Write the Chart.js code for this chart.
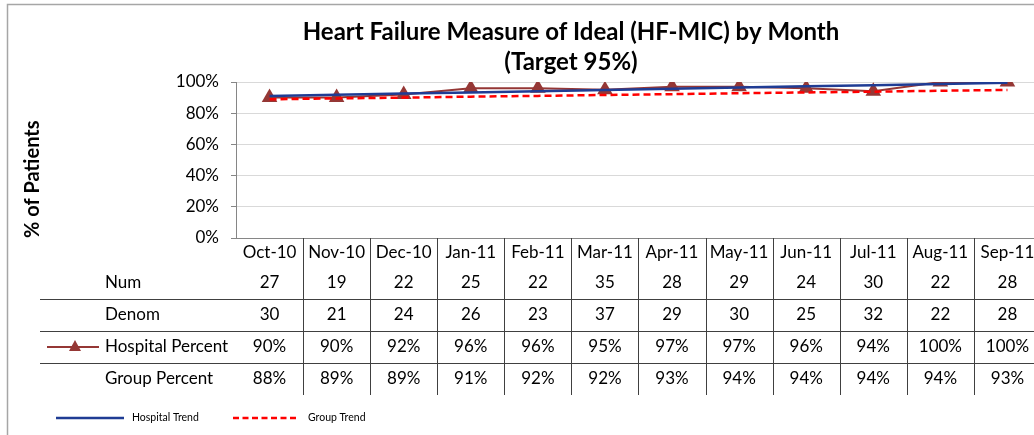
<!DOCTYPE html>
<html>
<head>
<meta charset="utf-8">
<script src="https://cdn.jsdelivr.net/npm/chart.js@4"></script>
<style>
  html, body { margin: 0; padding: 0; background: #fff; overflow: hidden; }
  #wrap { width: 1050px; height: 435px; }
</style>
</head>
<body>
<div id="wrap"><canvas id="chart" width="1050" height="435"></canvas></div>
<script>
// chart data
const months = ['Oct-10', 'Nov-10', 'Dec-10', 'Jan-11', 'Feb-11', 'Mar-11', 'Apr-11', 'May-11', 'Jun-11', 'Jul-11', 'Aug-11', 'Sep-11'];
const numVals = [27, 19, 22, 25, 22, 35, 28, 29, 24, 30, 22, 28];
const denomVals = [30, 21, 24, 26, 23, 37, 29, 30, 25, 32, 22, 28];
const hospitalPct = [90, 90, 92, 96, 96, 95, 97, 97, 96, 94, 100, 100];
const groupPct = [88, 89, 89, 91, 92, 92, 93, 94, 94, 94, 94, 93];
// trend lines
const hospitalTrend = [91.0, 91.8, 92.6, 93.3, 94.1, 94.9, 95.6, 96.4, 97.2, 97.9, 98.7, 99.5];
const groupTrend = [88.9, 89.5, 90.0, 90.6, 91.1, 91.7, 92.2, 92.8, 93.3, 93.8, 94.4, 94.9];
const yTickValues = [0, 20, 40, 60, 80, 100];

const FONT = 'Lato, "Open Sans", sans-serif';
const RED_BROWN = '#953735';

// draws frame, title, data table and bottom legend
const tablePlugin = {
  id: 'tablePlugin',
  beforeDraw(chart) {
    const ctx = chart.ctx;
    ctx.save();
    ctx.fillStyle = '#fff';
    ctx.fillRect(0, 0, chart.width, chart.height);
    ctx.strokeStyle = '#a6a6a6';
    ctx.lineWidth = 1.5;
    ctx.beginPath();
    ctx.moveTo(7.5, chart.height + 5);
    ctx.lineTo(7.5, 4.5);
    ctx.lineTo(chart.width + 5, 4.5);
    ctx.stroke();
    ctx.restore();
  },
  afterDraw(chart) {
    const ctx = chart.ctx;
    const x = chart.scales.x;
    const area = chart.chartArea;
    const half = (x.getPixelForValue(1) - x.getPixelForValue(0)) / 2;
    ctx.save();

    // title
    ctx.fillStyle = '#000';
    ctx.textAlign = 'center';
    ctx.textBaseline = 'middle';
    ctx.font = 'bold 24px ' + FONT;
    ctx.fillText('Heart Failure Measure of Ideal (HF-MIC) by Month', 571, 32);
    ctx.fillText('(Target 95%)', 571, 62);

    // x axis line
    ctx.strokeStyle = '#868686';
    ctx.lineWidth = 1;
    ctx.beginPath();
    ctx.moveTo(area.left, area.bottom + 0.5);
    ctx.lineTo(chart.width, area.bottom + 0.5);
    ctx.stroke();

    // table grid
    const rowY = [253, 283, 315, 347, 379];
    const sepY = [299, 331, 363];
    ctx.strokeStyle = '#404040';
    ctx.beginPath();
    sepY.forEach(y => {
      ctx.moveTo(40, y + 0.5);
      ctx.lineTo(chart.width, y + 0.5);
    });
    for (let i = 0; i < months.length; i++) {
      const bx = Math.round(x.getPixelForValue(i) + half) + 0.5;
      ctx.moveTo(bx, area.bottom);
      ctx.lineTo(bx, 395);
    }
    ctx.stroke();

    // cell texts
    ctx.font = '17px ' + FONT;
    ctx.fillStyle = '#000';
    ctx.textAlign = 'center';
    const rows = [months, numVals, denomVals,
      hospitalPct.map(v => v + '%'), groupPct.map(v => v + '%')];
    rows.forEach((row, r) => {
      row.forEach((val, i) => {
        ctx.fillText(String(val), x.getPixelForValue(i), rowY[r]);
      });
    });

    // row labels
    ctx.textAlign = 'left';
    const labels = ['Num', 'Denom', 'Hospital Percent', 'Group Percent'];
    labels.forEach((t, r) => ctx.fillText(t, 105, rowY[r + 1]));

    // legend key for hospital percent
    ctx.strokeStyle = RED_BROWN;
    ctx.lineWidth = 2;
    ctx.beginPath();
    ctx.moveTo(47, 347);
    ctx.lineTo(99, 347);
    ctx.stroke();
    ctx.fillStyle = RED_BROWN;
    ctx.beginPath();
    ctx.moveTo(75, 340);
    ctx.lineTo(81, 351);
    ctx.lineTo(69, 351);
    ctx.closePath();
    ctx.fill();

    // bottom legend
    ctx.lineWidth = 2.5;
    ctx.strokeStyle = '#1f3c94';
    ctx.beginPath();
    ctx.moveTo(56, 418);
    ctx.lineTo(124, 418);
    ctx.stroke();
    ctx.strokeStyle = '#ff0000';
    ctx.setLineDash([6, 3.5]);
    ctx.beginPath();
    ctx.moveTo(233, 418);
    ctx.lineTo(297, 418);
    ctx.stroke();
    ctx.setLineDash([]);
    ctx.fillStyle = '#000';
    ctx.font = '10.5px ' + FONT;
    ctx.textBaseline = 'middle';
    ctx.fillText('Hospital Trend', 132, 418);
    ctx.fillText('Group Trend', 308, 418);

    ctx.restore();
  }
};

new Chart(document.getElementById('chart'), {
  type: 'line',
  data: {
    labels: months,
    datasets: [
      {
        label: 'Hospital Trend',
        data: hospitalTrend,
        borderColor: '#1f3c94',
        borderWidth: 2.5,
        pointRadius: 0,
        order: 1
      },
      {
        label: 'Group Trend',
        data: groupTrend,
        borderColor: '#ff0000',
        borderWidth: 2.5,
        borderDash: [7, 4],
        pointRadius: 0,
        order: 0
      },
      {
        label: 'Hospital Percent',
        data: hospitalPct,
        borderColor: RED_BROWN,
        borderWidth: 2,
        pointStyle: 'triangle',
        pointRadius: 9,
        pointBackgroundColor: RED_BROWN,
        pointBorderColor: RED_BROWN,
        pointBorderWidth: 0,
        order: 2
      }
    ]
  },
  options: {
    responsive: false,
    animation: false,
    events: [],
    layout: {
      padding: { top: 82, bottom: 197, left: 0, right: 8 }
    },
    plugins: {
      legend: { display: false },
      title: { display: false },
      tooltip: { enabled: false }
    },
    scales: {
      x: {
        type: 'category',
        offset: true,
        display: false
      },
      y: {
        min: 0,
        max: 100,
        afterBuildTicks: (scale) => {
          scale.ticks = yTickValues.map(v => ({ value: v }));
        },
        afterFit: (scale) => {
          scale.width = 236;
        },
        ticks: {
          callback: (v) => v + '%',
          color: '#000',
          padding: 12,
          font: { family: FONT, size: 17 }
        },
        grid: {
          color: '#d9d9d9',
          tickColor: '#868686',
          tickLength: 5,
          lineWidth: 1
        },
        border: { color: '#868686' },
        title: {
          display: true,
          text: '% of Patients',
          align: 'start',
          color: '#000',
          font: { family: FONT, size: 20, weight: 'bold' },
          padding: { top: 21, bottom: 0 }
        }
      }
    }
  },
  plugins: [tablePlugin]
});
</script>
</body>
</html>
